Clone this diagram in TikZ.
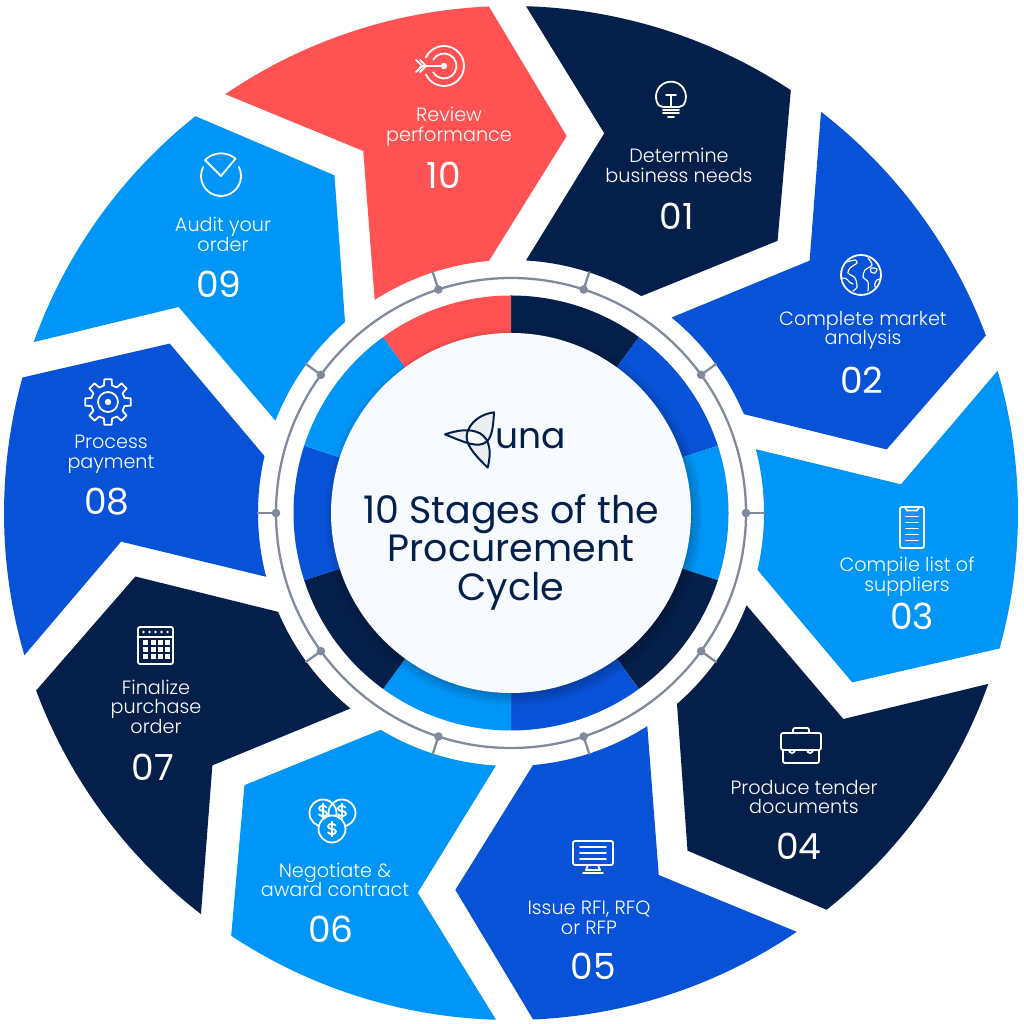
\documentclass[tikz,border=0pt]{standalone}
\usepackage{xcolor}
\usepackage{fontspec}
\setmainfont{Poppins}
\newfontfamily\lightfont{Poppins Light}
\usepackage{tikz}
\usetikzlibrary{shadows,fadings}

\definecolor{navyseg}{HTML}{051F4B}
\definecolor{blueseg}{HTML}{0852D8}
\definecolor{skyseg}{HTML}{0096F8}
\definecolor{redseg}{HTML}{FF5252}
\definecolor{diskfill}{HTML}{F7FAFF}
\definecolor{ringgrey}{HTML}{808A9B}

\newcommand{\dollarpath}{
  \draw[icon] (3.5,3.5) .. controls (1.5,6) and (-4,5.5) .. (-4,2.5) .. controls (-4,-1) and (4,1) .. (4,-2.5) .. controls (4,-5.5) and (-2,-6) .. (-4,-3.5);
  \draw[icon] (0,-7.5) -- (0,7.5);
}

\tikzset{
  icon/.style={draw=white, line width=1.8pt, line join=round, line cap=round},
  stagetext/.style={text=white, align=center, font=\lightfont\fontsize{19.2}{19.6}\selectfont, inner sep=0pt},
  stagenum/.style={text=white, font=\fontsize{36}{36}\selectfont, inner sep=0pt},
  bulbicon/.pic={
    \draw[icon] (-8,-9) -- (-12.3,-7.3) arc[start angle=215, end angle=-35, radius=15] -- (8,-9);
    \draw[icon] (-8,-9) -- (8,-9) (-8,-12) -- (8,-12) (-8,-15) -- (8,-15) (-3,-19) -- (3,-19);
    \draw[icon] (-5,3) -- (5,3) (0,3) -- (0,-8);
  },
  globeicon/.pic={
    \draw[icon] (0,0) circle[radius=20];
    \draw[icon, line width=1.2pt] plot[smooth] coordinates {(-14,13) (-6,15) (-4,12) (-11,7) (-13,2) (-6,-3) (-4,-12) (-8,-16)};
    \draw[icon, line width=1.2pt] (-19,-3) .. controls (-13,-2) and (-13,-8) .. (-8,-9);
    \draw[icon, line width=1.2pt] plot[smooth] coordinates {(7,17) (11,10) (4,5) (2,-2) (7,-7) (7,-16)};
    \draw[icon, line width=1.2pt] plot[smooth cycle] coordinates {(10,7) (16,6) (14,2) (10,3)};
    \draw[icon, line width=1.2pt] (19,-4) .. controls (15,-4) and (13,-8) .. (14,-12);
  },
  listicon/.pic={
    \draw[icon, rounded corners=2pt] (-12,20.5) rectangle (12,-20.5);
    \draw[icon] (-7,20) -- (-5,17) -- (5,17) -- (7,20);
    \foreach \ly in {11,5,-1,-7,-13}
      \draw[icon] (-6,\ly) -- (6,\ly);
  },
  caseicon/.pic={
    \draw[icon, rounded corners=2pt] (-20,13) rectangle (20,-4);
    \draw[icon, rounded corners=2pt] (-18,-4) -- (-18,-17) -- (18,-17) -- (18,-4);
    \draw[icon, rounded corners=2pt] (-8,13) -- (-8,18) -- (8,18) -- (8,13);
    \draw[icon] (-12,-4) arc[start angle=180, end angle=360, radius=3];
    \draw[icon] (6,-4) arc[start angle=180, end angle=360, radius=3];
  },
  monitoricon/.pic={
    \draw[icon, rounded corners=2pt] (-20,14) rectangle (20,-10);
    \foreach \ly in {8,2,-4}
      \draw[icon] (-13,\ly) -- (13,\ly);
    \draw[icon] (-5,-10) -- (-7,-15) -- (7,-15) -- (5,-10);
    \draw[icon] (-10,-18) -- (10,-18);
  },
  coinsicon/.pic={
    \draw[icon] (-9,7) circle[radius=13.5];
    \draw[icon] (10,7) circle[radius=13.5];
    \begin{scope}[shift={(-9,9)}] \dollarpath \end{scope}
    \begin{scope}[shift={(10,9)}] \dollarpath \end{scope}
    \draw[icon, fill=skyseg] (0,-9) circle[radius=13.5];
    \begin{scope}[shift={(0,-9)}] \dollarpath \end{scope}
  },
  calendaricon/.pic={
    \draw[icon, rounded corners=2pt] (-17.5,18.5) rectangle (17.5,-18.5);
    \draw[icon] (-17.5,8.5) -- (17.5,8.5);
    \foreach \dx in {-12,-6,0,6,12}
      \fill[white] (\dx,13.5) circle[radius=1.3];
    \foreach \dx in {-12.5,-5,2.5,9.5}
      \foreach \dy in {5.5,-1.5,-8.5}
        \fill[white] (\dx,\dy) rectangle +(5,-5);
  },
  gearicon/.pic={
    \foreach \a in {0,45,...,315}
      \draw[icon] (\a-14:17) -- (\a-9:23) -- (\a+9:23) -- (\a+14:17) arc[start angle=\a+14, end angle=\a+31, radius=17];
    \draw[icon] (0,0) circle[radius=10];
    \fill[white] (0,0) circle[radius=3.2];
  },
  auditicon/.pic={
    \draw[icon] (27:20) arc[start angle=27, end angle=-207, radius=20];
    \draw[icon] (0,0) -- (-16,16) arc[start angle=135, end angle=50, radius=22.6] -- cycle;
  },
  targeticon/.pic={
    \draw[icon] (155:20) arc[start angle=155, end angle=-155, radius=20];
    \draw[icon] (150:12.5) arc[start angle=150, end angle=-150, radius=12.5];
    \fill[white] (0,0) circle[radius=3.2];
    \draw[icon] (-22,0) -- (0,0);
    \draw[icon] (-28,6) -- (-22,0) -- (-28,-6) (-24,6) -- (-18,0) -- (-24,-6);
  }
}

\begin{document}
\begin{tikzpicture}[x=1pt, y=1pt]
\path[use as bounding box, fill=white] (0,0) rectangle (1024,1024);

% outer stages and inner ring
\begin{scope}[shift={(511,511)}]
\foreach \i/\segcol in {0/navyseg,1/blueseg,2/skyseg,3/navyseg,4/blueseg,5/skyseg,6/navyseg,7/blueseg,8/skyseg,9/redseg}{
  \begin{scope}[rotate=-\i*36]
    \fill[\segcol] (88.3:507) arc[start angle=88.3, end angle=56.5, radius=507] -- (45.6:381)
      -- (59:253) arc[start angle=59, end angle=86.6, radius=253] -- (76.2:391) -- cycle;
    \fill[\segcol] (90:180) -- (90:217.5) arc[start angle=90, end angle=54, radius=217.5] -- (54:180) -- cycle;
  \end{scope}
}
\draw[ringgrey, line width=2.3pt] (0,0) circle[radius=235];
\foreach \a in {0,36,...,324}{
  \draw[ringgrey, line width=2.3pt] (\a:235) -- (\a:254);
  \fill[ringgrey] (\a:235) circle[radius=4.3];
}
\end{scope}

% centre
\node[circle, fill=diskfill, minimum size=360pt, inner sep=0pt,
  circular drop shadow={shadow xshift=2pt, shadow yshift=-3pt, shadow scale=1.05, fill=black, opacity=.5}] (centerdisk) at (511,511) {};
\node[text=navyseg, align=center, inner sep=0pt, font=\fontsize{38}{38.5}\selectfont] (titletext) at (511,472) {10 Stages of the\\Procurement\\Cycle};

% logo, traced at 3x
\begin{scope}[shift={(435,624)}, x=.3333pt, y=-.3333pt]
  \fill[navyseg!8] (177,37) .. controls (120,45) and (98,80) .. (96,97) .. controls (120,90) and (145,100) .. (158,122) .. controls (172,105) and (175,75) .. (177,37);
  \fill[navyseg!8] (30,103) .. controls (50,97) and (75,92) .. (96,97) .. controls (94,110) and (96,122) .. (100,130) .. controls (80,125) and (55,113) .. (30,103);
  \fill[navyseg!8] (158,203) .. controls (125,170) and (105,150) .. (100,130) .. controls (120,140) and (145,135) .. (158,122) .. controls (170,145) and (168,170) .. (158,203);
  \draw[navyseg, line width=2pt, line join=round] (177,37) .. controls (120,45) and (95,85) .. (95,110) .. controls (95,140) and (125,170) .. (158,203)
    .. controls (170,155) and (165,118) .. (135,100) .. controls (105,85) and (70,90) .. (30,103)
    .. controls (95,130) and (130,145) .. (155,125) .. controls (172,110) and (175,75) .. (177,37) -- cycle;
\end{scope}
\node[text=navyseg, inner sep=0pt, font=\fontsize{36}{36}\selectfont] (unatext) at (531,585) {una};

% stage icons
\pic at (671,926) {bulbicon};
\pic at (861,749) {globeicon};
\pic at (912,496.5) {listicon};
\pic at (801,278) {caseicon};
\pic at (593,169) {monitoricon};
\pic at (332,204) {coinsicon};
\pic at (155.5,378.5) {calendaricon};
\pic at (108,622) {gearicon};
\pic at (221,848) {auditicon};
\pic at (444,958) {targeticon};

% stage labels
\node[stagetext] (stagetext01) at (679,858.5) {Determine\\business needs};
\node[stagetext] (stagetext02) at (863,693.5) {Complete market\\analysis};
\node[stagetext] (stagetext03) at (907,447.5) {Compile list of\\suppliers};
\node[stagetext] (stagetext04) at (804,227) {Produce tender\\documents};
\node[stagetext] (stagetext05) at (589,106.5) {Issue RFI, RFQ\\or RFP};
\node[stagetext] (stagetext06) at (335,144) {Negotiate \&\\award contract};
\node[stagetext] (stagetext07) at (156,317.5) {Finalize\\purchase\\order};
\node[stagetext] (stagetext08) at (111,569.5) {Process\\payment};
\node[stagetext] (stagetext09) at (223,789.5) {Audit your\\order};
\node[stagetext] (stagetext10) at (449,897) {Review\\performance};

\node[stagenum] (stagenum01) at (677,808) {01};
\node[stagenum] (stagenum02) at (862,644) {02};
\node[stagenum] (stagenum03) at (912,408) {03};
\node[stagenum] (stagenum04) at (799,178) {04};
\node[stagenum] (stagenum05) at (593,58) {05};
\node[stagenum] (stagenum06) at (331,95) {06};
\node[stagenum] (stagenum07) at (153,257) {07};
\node[stagenum] (stagenum08) at (107,522) {08};
\node[stagenum] (stagenum09) at (219,740) {09};
\node[stagenum] (stagenum10) at (444,849) {10};
\end{tikzpicture}
\end{document}
